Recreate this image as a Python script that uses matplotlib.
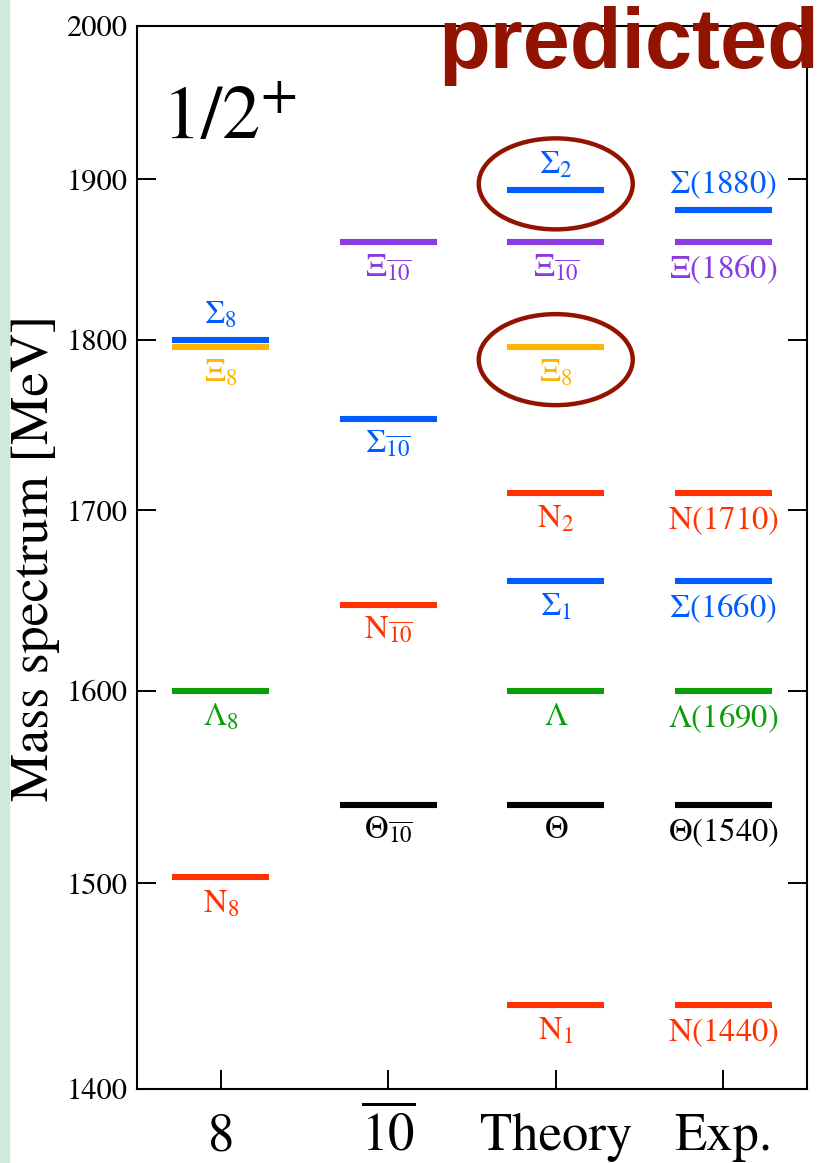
import matplotlib
matplotlib.use("Agg")
import matplotlib.pyplot as plt
from matplotlib.patches import Ellipse, Rectangle
from matplotlib.ticker import FixedLocator, NullLocator, NullFormatter

plt.rcParams['font.family'] = 'STIXGeneral'
plt.rcParams['mathtext.fontset'] = 'stix'

# column titles along the x axis
columns = ['8', r'$\overline{10}$', 'Theory', 'Exp.']

# octet
octet_mass = [1800, 1796, 1600, 1503]
octet_family = ['Sigma', 'Xi8', 'Lambda', 'N']
octet_label = [r'$\Sigma_8$', r'$\Xi_8$', r'$\Lambda_8$', r'$\mathrm{N}_8$']

# anti-decuplet
adec_mass = [1860, 1753, 1647, 1540]
adec_family = ['Xi', 'Sigma', 'N', 'Theta']
adec_label = [r'$\Xi_{\overline{10}}$', r'$\Sigma_{\overline{10}}$',
              r'$\mathrm{N}_{\overline{10}}$', r'$\Theta_{\overline{10}}$']

# theory (mixed states)
theory_mass = [1893, 1860, 1796, 1710, 1660, 1600, 1540, 1440]
theory_family = ['Sigma', 'Xi', 'Xi8', 'N', 'Sigma', 'Lambda', 'Theta', 'N']
theory_label = [r'$\Sigma_2$', r'$\Xi_{\overline{10}}$', r'$\Xi_8$', r'$\mathrm{N}_2$',
                r'$\Sigma_1$', r'$\Lambda$', r'$\Theta$', r'$\mathrm{N}_1$']

# experiment
exp_mass = [1880, 1860, 1710, 1660, 1600, 1540, 1440]
exp_family = ['Sigma', 'Xi', 'N', 'Sigma', 'Lambda', 'Theta', 'N']
exp_label = [r'$\Sigma(1880)$', r'$\Xi(1860)$', r'$\mathrm{N}(1710)$', r'$\Sigma(1660)$',
             r'$\Lambda(1690)$', r'$\Theta(1540)$', r'$\mathrm{N}(1440)$']

# labels written above their level instead of below
labels_above = [r'$\Sigma_8$', r'$\Sigma_2$', r'$\Sigma(1880)$']

# predicted states that get circled (column index, mass)
circled = [(2, 1893), (2, 1796)]

yticks = [1400, 1500, 1600, 1700, 1800, 1900, 2000]

colors = {'N': '#ff3300', 'Lambda': '#0a9e0a', 'Sigma': '#005cff',
          'Xi': '#8a3be3', 'Xi8': '#ffb400', 'Theta': 'black'}
dark_red = '#921400'

fig = plt.figure(figsize=(8.21, 11.63), dpi=100)
ax = fig.add_axes([137 / 821, 1 - 1089 / 1163, 670 / 821, 1063 / 1163])

# light green strip at the left edge
fig.patches.append(Rectangle((0, 0), 9 / 821, 1, transform=fig.transFigure,
                             color='#cdeadb', zorder=0))

ax.set_yscale('log')
ax.set_ylim(1400, 2000)
ax.set_xlim(0.5, 4.5)

groups = [(octet_mass, octet_family, octet_label),
          (adec_mass, adec_family, adec_label),
          (theory_mass, theory_family, theory_label),
          (exp_mass, exp_family, exp_label)]

half = 0.29
for i, (masses, fams, labs) in enumerate(groups):
    x = i + 1
    for m, f, lab in zip(masses, fams, labs):
        c = colors[f]
        ax.hlines(m, x - half, x + half, color=c, lw=4.4)
        if lab in labels_above:
            ax.annotate(lab, (x, m), xytext=(0, 7), textcoords='offset points',
                        ha='center', va='bottom', color=c, fontsize=23.5)
        else:
            ax.annotate(lab, (x, m), xytext=(0, -8), textcoords='offset points',
                        ha='center', va='top', color=c, fontsize=23.5)

# ellipses around the predicted states (sizes in pixels, drawn in axes coords)
ell_offsets = [6, -13]
for (ci, m), dy in zip(circled, ell_offsets):
    px, py = ax.transData.transform((ci + 1, m))
    cx, cy = ax.transAxes.inverted().transform((px, py + dy))
    ax.add_patch(Ellipse((cx, cy), 154 / 670, 91 / 1063, transform=ax.transAxes,
                         fill=False, ec=dark_red, lw=3.2))

# axes styling
ax.yaxis.set_major_locator(FixedLocator(yticks))
ax.yaxis.set_minor_locator(NullLocator())
ax.yaxis.set_minor_formatter(NullFormatter())
ax.set_yticklabels([str(t) for t in yticks])
ax.set_xticks(range(1, len(columns) + 1))
ax.set_xticklabels(columns)
for lab in ax.get_xticklabels():
    lab.set_verticalalignment('baseline')

ax.tick_params(axis='y', which='major', direction='in', length=14, width=1.4,
               left=True, right=True, labelsize=22, pad=7)
ax.tick_params(axis='x', direction='in', length=14, width=1.4, top=False,
               labelsize=38, pad=44)
for s in ax.spines.values():
    s.set_linewidth(1.5)

ax.set_ylabel('Mass spectrum [MeV]', fontsize=39, va='center')
ax.yaxis.set_label_coords(-0.152, 0.5)

ax.text(0.037, 0.8946, r'$1/2^{+}$', transform=ax.transAxes, fontsize=55,
        va='baseline', ha='left')

fig.text(0.998, 1 - 6 / 1163, 'predicted', ha='right', va='top', fontsize=61,
         fontweight='bold', family='Liberation Sans', color=dark_red)

fig.savefig('out.png', dpi=100)
